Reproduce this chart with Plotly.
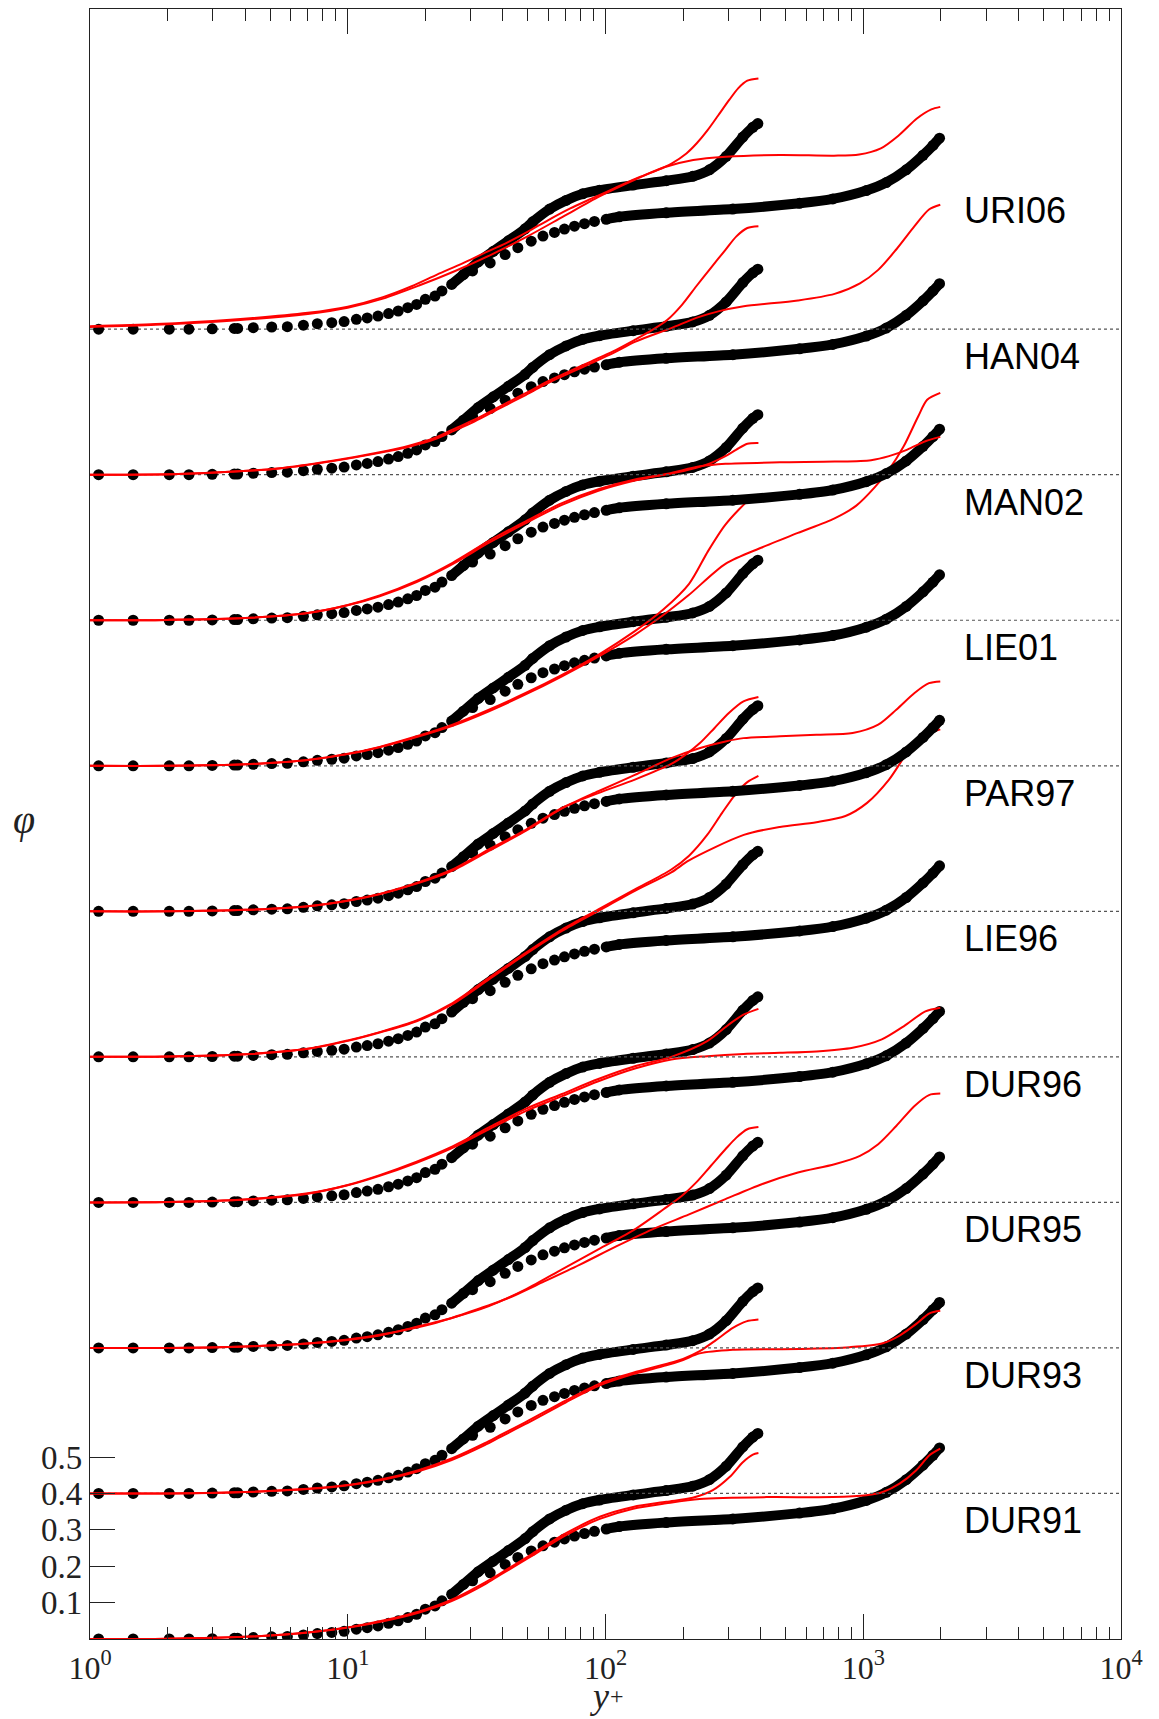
import plotly.graph_objects as go

# ---------------------------------------------------------------------------
# DNS profiles of phi (identical in every panel, shifted by panel offset)
# ---------------------------------------------------------------------------
dns395_yplus = [1.08, 2.03, 2.98, 3.74, 5.07, 6.73, 8.67, 10.8, 13.1, 15.7, 18.5,
                21.8, 25.3, 28.1, 32.1, 36.7, 42.0, 48.8, 52.2, 60.7, 70.3, 81.6,
                94.8, 128, 172, 218, 253, 294, 341, 373, 390]
dns395_phi = [0.000, 0.000, 0.001, 0.002, 0.006, 0.011, 0.018, 0.027, 0.036, 0.050,
              0.068, 0.091, 0.123, 0.150, 0.185, 0.214, 0.243, 0.276, 0.295, 0.330,
              0.354, 0.372, 0.382, 0.396, 0.408, 0.420, 0.438, 0.475, 0.528, 0.555,
              0.565]

dns2000_yplus = [1.47, 2.42, 3.63, 4.30, 5.83, 7.62, 9.68, 11.9, 14.4, 17.1, 20.0,
                 23.2, 30.5, 35.7, 40.8, 45.7, 51.5, 57.2, 63.4, 69.3, 75.8, 82.9,
                 90.6, 100.6, 113, 172, 312, 566, 762, 1028, 1228, 1468, 1706, 1864,
                 1977]
dns2000_phi = [0.000, 0.000, 0.002, 0.004, 0.007, 0.015, 0.021, 0.031, 0.043, 0.059,
               0.082, 0.105, 0.160, 0.182, 0.205, 0.224, 0.242, 0.256, 0.266, 0.275,
               0.283, 0.290, 0.296, 0.302, 0.309, 0.320, 0.330, 0.346, 0.358, 0.381,
               0.403, 0.438, 0.478, 0.505, 0.525]

# ---------------------------------------------------------------------------
# Model predictions (Re_tau = 395 and Re_tau = 2000)
# ---------------------------------------------------------------------------
DUR91_395_yplus = [1, 2, 4, 7, 10.4, 14, 18.8, 25.3, 34, 39, 52, 70, 95, 128, 172, 218, 261, 303, 341, 373, 392]
DUR91_395_phi = [0, 0.001, 0.006, 0.018, 0.034, 0.052, 0.075, 0.108, 0.155, 0.180, 0.234, 0.290, 0.336, 0.363, 0.377, 0.388, 0.409, 0.445, 0.486, 0.507, 0.511]
DUR91_2000_yplus = [1, 2, 4, 7, 10.4, 14, 18.8, 25.3, 34, 39, 52, 70, 95, 128, 172, 232, 420, 762, 1028, 1191, 1383, 1606, 1807, 1990]
DUR91_2000_phi = [0, 0.001, 0.006, 0.018, 0.033, 0.050, 0.072, 0.104, 0.150, 0.176, 0.229, 0.285, 0.330, 0.358, 0.373, 0.385, 0.390, 0.390, 0.395, 0.404, 0.427, 0.464, 0.505, 0.523]

DUR93_395_yplus = [1, 2, 4, 7, 10.4, 14, 18.8, 25.3, 34, 39, 49, 70, 95, 128, 172, 200, 232, 269, 312, 352, 392]
DUR93_395_phi = [0, 0, 0.004, 0.013, 0.025, 0.041, 0.064, 0.096, 0.138, 0.160, 0.196, 0.255, 0.302, 0.332, 0.356, 0.370, 0.391, 0.422, 0.455, 0.473, 0.478]
DUR93_2000_yplus = [1, 2, 4, 7, 10.4, 14, 18.8, 25.3, 34, 39, 49, 70, 95, 128, 172, 200, 232, 312, 566, 885, 1191, 1383, 1606, 1807, 1990]
DUR93_2000_phi = [0, 0, 0.004, 0.012, 0.024, 0.039, 0.061, 0.092, 0.133, 0.155, 0.191, 0.250, 0.297, 0.328, 0.352, 0.367, 0.385, 0.395, 0.397, 0.402, 0.413, 0.434, 0.466, 0.495, 0.502]

DUR95_395_yplus = [1, 2, 4, 7, 10, 13.3, 18.5, 25.5, 35.3, 49, 67.8, 93.8, 130, 168, 198, 225, 256, 292, 322, 355, 392]
DUR95_395_phi = [0, 0, 0.004, 0.012, 0.022, 0.034, 0.058, 0.083, 0.115, 0.161, 0.216, 0.271, 0.326, 0.381, 0.418, 0.455, 0.500, 0.546, 0.578, 0.601, 0.607]
DUR95_2000_yplus = [1, 2, 4, 7, 10, 13.3, 21.7, 30, 41.6, 57.6, 79.6, 110, 152, 211, 292, 404, 558, 774, 971, 1143, 1343, 1581, 1799, 1990]
DUR95_2000_phi = [0, 0, 0.004, 0.012, 0.023, 0.036, 0.068, 0.100, 0.136, 0.182, 0.229, 0.279, 0.326, 0.367, 0.409, 0.450, 0.482, 0.505, 0.528, 0.560, 0.610, 0.665, 0.695, 0.699]

DUR96_395_yplus = [1, 2, 4, 7, 10, 13.3, 18.5, 25.5, 35.3, 49, 67.8, 93.8, 130, 180, 248, 301, 343, 392]
DUR96_395_phi = [0, 0.001, 0.008, 0.025, 0.048, 0.075, 0.112, 0.154, 0.206, 0.257, 0.298, 0.339, 0.374, 0.400, 0.443, 0.489, 0.516, 0.532]
DUR96_2000_yplus = [1, 2, 4, 7, 10, 13.3, 18.5, 25.5, 35.3, 49, 67.8, 93.8, 130, 180, 248, 343, 475, 658, 910, 1180, 1435, 1742, 1990]
DUR96_2000_phi = [0, 0.001, 0.008, 0.024, 0.047, 0.073, 0.109, 0.150, 0.201, 0.251, 0.292, 0.333, 0.368, 0.393, 0.402, 0.408, 0.411, 0.415, 0.425, 0.448, 0.484, 0.525, 0.535]

LIE96_395_yplus = [1, 2, 4, 7, 10, 13.3, 18.5, 25.5, 35.3, 49, 67.8, 93.8, 130, 180, 211, 248, 283, 322, 355, 392]
LIE96_395_phi = [0, 0.001, 0.007, 0.022, 0.045, 0.068, 0.100, 0.148, 0.217, 0.286, 0.350, 0.405, 0.460, 0.515, 0.553, 0.610, 0.670, 0.725, 0.755, 0.772]
LIE96_2000_yplus = [1, 2, 4, 7, 10, 13.3, 18.5, 25.5, 35.3, 49, 67.8, 93.8, 130, 180, 211, 344, 475, 658, 853, 1035, 1259, 1483, 1700, 1990]
LIE96_2000_phi = [0, 0.001, 0.007, 0.022, 0.044, 0.067, 0.098, 0.145, 0.213, 0.282, 0.346, 0.401, 0.456, 0.507, 0.540, 0.610, 0.632, 0.645, 0.662, 0.698, 0.762, 0.836, 0.880, 0.900]

PAR97_395_yplus = [1, 2, 4, 7, 10, 13.3, 18.5, 25.5, 35.3, 49, 67.8, 93.8, 130, 180, 204, 233, 265, 301, 343, 392]
PAR97_395_phi = [0, 0, 0.004, 0.014, 0.030, 0.048, 0.078, 0.115, 0.170, 0.224, 0.284, 0.325, 0.362, 0.405, 0.430, 0.463, 0.504, 0.545, 0.577, 0.589]
PAR97_2000_yplus = [1, 2, 4, 7, 10, 13.3, 18.5, 25.5, 35.3, 49, 67.8, 93.8, 130, 180, 233, 292, 343, 475, 658, 910, 1143, 1343, 1581, 1799, 1990]
PAR97_2000_phi = [0, 0, 0.004, 0.014, 0.029, 0.047, 0.076, 0.112, 0.166, 0.221, 0.283, 0.330, 0.375, 0.421, 0.449, 0.467, 0.476, 0.481, 0.485, 0.490, 0.513, 0.554, 0.600, 0.627, 0.632]

LIE01_395_yplus = [1, 2, 4, 7, 10, 13.3, 18.5, 25.5, 35.3, 49, 67.8, 93.8, 130, 168, 211, 250, 290, 330, 362, 392]
LIE01_395_phi = [0, 0, 0.004, 0.016, 0.033, 0.052, 0.081, 0.113, 0.154, 0.200, 0.250, 0.305, 0.370, 0.430, 0.500, 0.590, 0.660, 0.705, 0.732, 0.745]
LIE01_2000_yplus = [1, 2, 4, 7, 10, 13.3, 18.5, 25.5, 35.3, 49, 67.8, 93.8, 130, 168, 211, 292, 404, 558, 774, 940, 1107, 1259, 1435, 1633, 1770, 1990]
LIE01_2000_phi = [0, 0, 0.004, 0.016, 0.032, 0.051, 0.079, 0.110, 0.150, 0.196, 0.246, 0.300, 0.360, 0.415, 0.470, 0.555, 0.600, 0.640, 0.680, 0.715, 0.765, 0.814, 0.878, 0.960, 1.006, 1.025]

MAN02_395_yplus = [1, 2, 4, 7, 10, 13.3, 18.5, 25.5, 35.3, 49, 67.8, 93.8, 130, 180, 225, 256, 292, 322, 355, 392]
MAN02_395_phi = [0, 0.001, 0.006, 0.020, 0.042, 0.068, 0.108, 0.158, 0.218, 0.272, 0.322, 0.360, 0.387, 0.403, 0.419, 0.432, 0.451, 0.469, 0.485, 0.487]
MAN02_2000_yplus = [1, 2, 4, 7, 10, 13.3, 18.5, 25.5, 35.3, 49, 67.8, 93.8, 130, 180, 233, 292, 475, 774, 1072, 1259, 1483, 1742, 1990]
MAN02_2000_phi = [0, 0.001, 0.006, 0.020, 0.041, 0.066, 0.105, 0.154, 0.213, 0.267, 0.317, 0.356, 0.384, 0.405, 0.423, 0.430, 0.434, 0.436, 0.440, 0.451, 0.469, 0.492, 0.504]

HAN04_395_yplus = [1, 2.2, 5.5, 8.5, 13.3, 17.3, 21.7, 25.5, 31, 39, 49, 59.4, 72.3, 87.7, 107, 130, 152, 174, 198, 225, 256, 292, 322, 355, 392]
HAN04_395_phi = [0, 0.002, 0.018, 0.037, 0.062, 0.080, 0.101, 0.124, 0.151, 0.188, 0.224, 0.256, 0.284, 0.311, 0.339, 0.371, 0.398, 0.426, 0.467, 0.518, 0.568, 0.618, 0.655, 0.678, 0.683]
HAN04_2000_yplus = [1, 2.2, 5.5, 8.5, 13.3, 17.3, 21.7, 25.5, 31, 39, 49, 59.4, 72.3, 87.7, 107, 130, 180, 225, 274, 344, 558, 774, 971, 1143, 1343, 1581, 1799, 1990]
HAN04_2000_phi = [0, 0.002, 0.018, 0.036, 0.060, 0.077, 0.097, 0.119, 0.146, 0.183, 0.219, 0.251, 0.279, 0.306, 0.334, 0.365, 0.403, 0.431, 0.449, 0.463, 0.479, 0.497, 0.526, 0.563, 0.619, 0.683, 0.729, 0.742]

URI06_395_yplus = [1, 1.8, 3.5, 7, 10, 13.7, 17.7, 22.2, 27.9, 33.8, 41, 50, 60, 73, 89, 108, 131, 159, 181, 206, 226, 249, 274, 302, 327, 355, 392]
URI06_395_phi = [0.008, 0.014, 0.026, 0.045, 0.062, 0.088, 0.118, 0.150, 0.181, 0.209, 0.236, 0.268, 0.300, 0.332, 0.360, 0.387, 0.414, 0.437, 0.456, 0.483, 0.511, 0.547, 0.588, 0.630, 0.662, 0.683, 0.689]
URI06_2000_yplus = [1, 1.8, 3.5, 7, 10, 13.7, 18.9, 26.1, 36.1, 49.8, 68.7, 94.8, 131, 169, 219, 293, 475, 770, 964, 1170, 1375, 1615, 1837, 1990]
URI06_2000_phi = [0.006, 0.012, 0.023, 0.042, 0.059, 0.084, 0.120, 0.160, 0.205, 0.255, 0.310, 0.365, 0.412, 0.445, 0.465, 0.474, 0.479, 0.477, 0.480, 0.497, 0.533, 0.579, 0.604, 0.611]

# Panels from bottom to top, each one shifted up by panel_shift
models = ["DUR91", "DUR93", "DUR95", "DUR96", "LIE96",
          "PAR97", "LIE01", "MAN02", "HAN04", "URI06"]
panel_shift = 0.4

model_curves = {
    "DUR91": [(DUR91_395_yplus, DUR91_395_phi), (DUR91_2000_yplus, DUR91_2000_phi)],
    "DUR93": [(DUR93_395_yplus, DUR93_395_phi), (DUR93_2000_yplus, DUR93_2000_phi)],
    "DUR95": [(DUR95_395_yplus, DUR95_395_phi), (DUR95_2000_yplus, DUR95_2000_phi)],
    "DUR96": [(DUR96_395_yplus, DUR96_395_phi), (DUR96_2000_yplus, DUR96_2000_phi)],
    "LIE96": [(LIE96_395_yplus, LIE96_395_phi), (LIE96_2000_yplus, LIE96_2000_phi)],
    "PAR97": [(PAR97_395_yplus, PAR97_395_phi), (PAR97_2000_yplus, PAR97_2000_phi)],
    "LIE01": [(LIE01_395_yplus, LIE01_395_phi), (LIE01_2000_yplus, LIE01_2000_phi)],
    "MAN02": [(MAN02_395_yplus, MAN02_395_phi), (MAN02_2000_yplus, MAN02_2000_phi)],
    "HAN04": [(HAN04_395_yplus, HAN04_395_phi), (HAN04_2000_yplus, HAN04_2000_phi)],
    "URI06": [(URI06_395_yplus, URI06_395_phi), (URI06_2000_yplus, URI06_2000_phi)],
}

x_tickvals = [1, 10, 100, 1000, 10000]
x_ticktext = ["10<sup>0</sup>", "10<sup>1</sup>", "10<sup>2</sup>", "10<sup>3</sup>", "10<sup>4</sup>"]
y_tickvals = [0.1, 0.2, 0.3, 0.4, 0.5]
y_ticktext = ["0.1", "0.2", "0.3", "0.4", "0.5"]

# where the DNS points are so dense that they merge into a band
band_start = {"395": 25.0, "2000": 100.0}

DOT = 11
RED = "#ff0000"
AXIS = "#222222"
SERIF = "Liberation Serif, serif"

fig = go.Figure()

dns_sets = [("395", dns395_yplus, dns395_phi), ("2000", dns2000_yplus, dns2000_phi)]

for k, name in enumerate(models):
    off = k * panel_shift
    if k > 0:
        fig.add_trace(go.Scatter(
            x=[1, 10000], y=[off, off], mode="lines",
            line=dict(color="#555555", width=1.2, dash="dot"),
            hoverinfo="skip", showlegend=False))
    for tag, xs, ys in dns_sets:
        shifted = [v + off for v in ys]
        bx = [x for x in xs if x >= band_start[tag]]
        by = [v + off for x, v in zip(xs, ys) if x >= band_start[tag]]
        fig.add_trace(go.Scatter(
            x=bx, y=by, mode="lines",
            line=dict(color="black", width=DOT - 1, shape="spline", smoothing=0.8),
            hoverinfo="skip", showlegend=False))
        fig.add_trace(go.Scatter(
            x=xs, y=shifted, mode="markers",
            marker=dict(color="black", size=DOT, line=dict(width=0)),
            hoverinfo="skip", showlegend=False))
    for xs, ys in model_curves[name]:
        fig.add_trace(go.Scatter(
            x=xs, y=[v + off for v in ys], mode="lines",
            line=dict(color=RED, width=2, shape="spline", smoothing=0.8),
            hoverinfo="skip", showlegend=False))
    fig.add_annotation(
        x=0.8458, xref="paper", y=off + 0.325, yref="y",
        text=name, showarrow=False, xanchor="left", yanchor="middle",
        font=dict(family="Liberation Sans, Arial, sans-serif", size=36, color="black"))

minor_vals = [m * 10 ** e for e in range(0, 4) for m in range(2, 10)]

fig.update_xaxes(
    type="log", range=[0, 4],
    tickvals=x_tickvals, ticktext=x_ticktext,
    ticks="inside", ticklen=25, tickwidth=1.3, tickcolor=AXIS,
    showline=True, linecolor=AXIS, linewidth=1.3, mirror="ticks",
    showgrid=False, zeroline=False,
    minor=dict(tickvals=minor_vals, ticks="inside", ticklen=12,
               tickwidth=1.3, tickcolor=AXIS, showgrid=False),
    tickfont=dict(family=SERIF, size=32, color="#222222"),
)
fig.update_yaxes(
    range=[0, 4.48],
    tickvals=y_tickvals, ticktext=y_ticktext,
    ticks="inside", ticklen=25, tickwidth=1.3, tickcolor=AXIS,
    showline=True, linecolor=AXIS, linewidth=1.3, mirror=True,
    showgrid=False, zeroline=False,
    tickfont=dict(family=SERIF, size=33, color="#222222"),
)

# axis titles: y+ (italic y with a raised plus) and phi
fig.add_annotation(
    x=0.4937, xref="paper", y=-0.0485, yref="paper",
    xanchor="center", yanchor="bottom",
    text="<i>y</i>", showarrow=False,
    font=dict(family=SERIF, size=36, color="#222222"))
fig.add_annotation(
    x=0.5110, xref="paper", y=-0.0350, yref="paper",
    xanchor="center", yanchor="middle",
    text="+", showarrow=False,
    font=dict(family=SERIF, size=24, color="#222222"))
fig.add_annotation(
    x=-0.064, xref="paper", y=0.503, yref="paper",
    xanchor="center", yanchor="middle",
    text="<i>φ</i>", showarrow=False,
    font=dict(family=SERIF, size=40, color="#222222"))

fig.update_layout(
    width=1159, height=1719,
    margin=dict(l=90, r=38, t=9, b=80),
    paper_bgcolor="white", plot_bgcolor="white",
    showlegend=False,
)

fig.write_html("out.html")
